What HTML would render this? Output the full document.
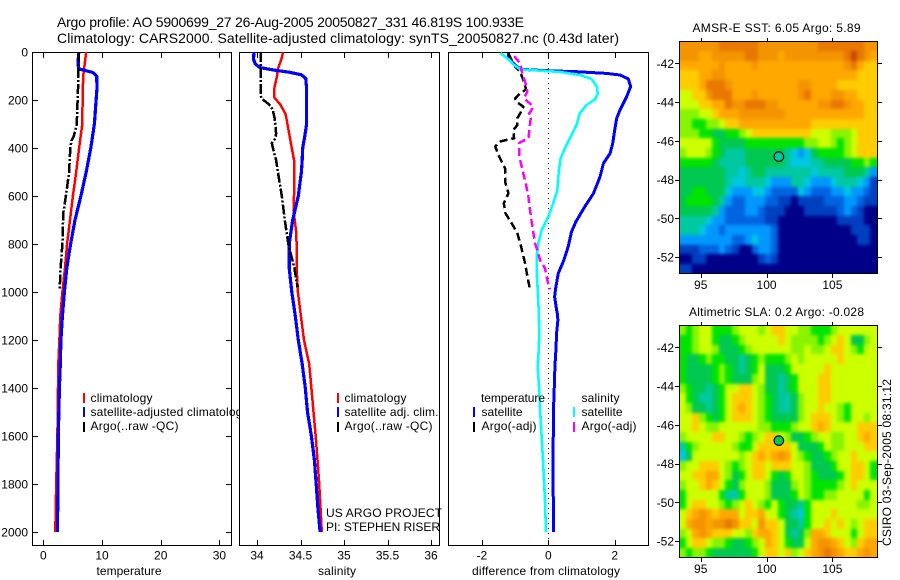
<!DOCTYPE html>
<html><head><meta charset="utf-8"><title>Argo profile</title>
<style>
html,body{margin:0;padding:0;background:#fff}
svg{display:block}
text{font-family:"Liberation Sans",sans-serif;font-size:12px;fill:#000}
.t{font-size:14px}
</style></head>
<body>
<svg id="fig" xmlns="http://www.w3.org/2000/svg" width="900" height="580" viewBox="0 0 900 580">
<defs>
<filter id="soften" filterUnits="userSpaceOnUse" x="640" y="0" width="260" height="580" color-interpolation-filters="sRGB"><feGaussianBlur stdDeviation="1.6"/></filter>
<clipPath id="clip-m1"><rect x="679" y="41" width="199" height="233"/></clipPath>
<clipPath id="clip-m2"><rect x="679" y="325" width="199" height="233"/></clipPath>
</defs>
<text class="t" x="57" y="27" textLength="467" lengthAdjust="spacing">Argo profile: AO 5900699_27 26-Aug-2005 20050827_331 46.819S 100.933E</text>
<text class="t" x="57" y="43" textLength="562" lengthAdjust="spacing">Climatology: CARS2000. Satellite-adjusted climatology: synTS_20050827.nc (0.43d later)</text>

<rect x="32.5" y="52.5" width="199" height="493" fill="#fff" stroke="#000"/>
<g id="p1"></g>
<g>
<line x1="84" x2="84" y1="393" y2="403" stroke="#f00" stroke-width="2"/>
<line x1="84" x2="84" y1="407" y2="417" stroke="#00f" stroke-width="2"/>
<line x1="84" x2="84" y1="422" y2="432" stroke="#000" stroke-width="2"/>
<text x="90.5" y="402" textLength="62">climatology</text>
<text x="90.5" y="416" textLength="158">satellite-adjusted climatology</text>
<text x="90.5" y="430" textLength="88">Argo(..raw -QC)</text>
</g>

<rect x="239.5" y="52.5" width="200" height="493" fill="#fff" stroke="#000"/>
<g id="p2"></g>
<g>
<line x1="338" x2="338" y1="393" y2="403" stroke="#f00" stroke-width="2"/>
<line x1="338" x2="338" y1="407" y2="417" stroke="#00f" stroke-width="2"/>
<line x1="338" x2="338" y1="422" y2="432" stroke="#000" stroke-width="2"/>
<text x="344.5" y="402" textLength="62">climatology</text>
<text x="344.5" y="416" textLength="94">satellite adj. clim.</text>
<text x="344.5" y="430" textLength="88">Argo(..raw -QC)</text>
</g>
<text x="326" y="517" textLength="116">US ARGO PROJECT</text>
<text x="326" y="531" textLength="114">PI: STEPHEN RISER</text>

<rect x="448.5" y="52.5" width="200" height="493" fill="#fff" stroke="#000"/>
<g id="p3"></g>
<g>
<line x1="474" x2="474" y1="407" y2="417" stroke="#00f" stroke-width="2"/>
<line x1="474" x2="474" y1="422" y2="432" stroke="#000" stroke-width="2"/>
<line x1="574" x2="574" y1="407" y2="417" stroke="#0ff" stroke-width="2"/>
<line x1="574" x2="574" y1="422" y2="432" stroke="#f0f" stroke-width="2"/>
<text x="481" y="402" textLength="64">temperature</text>
<text x="481.5" y="416" textLength="41">satellite</text>
<text x="481.5" y="430" textLength="55">Argo(-adj)</text>
<text x="581.5" y="402" textLength="38">salinity</text>
<text x="581.5" y="416" textLength="41">satellite</text>
<text x="581.5" y="430" textLength="55">Argo(-adj)</text>
</g>

<text x="96.5" y="575" textLength="65">temperature</text>
<text x="318" y="575" textLength="38">salinity</text>
<text x="472" y="575" textLength="148">difference from climatology</text>

<text x="692.5" y="32" textLength="168">AMSR-E SST: 6.05 Argo: 5.89</text>
<g id="m1">
<g clip-path="url(#clip-m1)"><g id="m1-cells" filter="url(#soften)"></g></g>
</g>
<text x="689" y="316" textLength="175">Altimetric SLA: 0.2 Argo: -0.028</text>
<g id="m2">
<g clip-path="url(#clip-m2)"><g id="m2-cells" filter="url(#soften)"></g></g>
</g>
<text transform="translate(891,546) rotate(-90)" x="0" y="0" textLength="167">CSIRO 03-Sep-2005 08:31:12</text>
</svg>

<script>
// ---- depth axis ticks and x tick labels
const depthTicks = [0,200,400,600,800,1000,1200,1400,1600,1800,2000];
const tempTicks = [0,10,20,30];
const salTicks = [34,34.5,35,35.5,36];
const salTickLabels = ['34','34.5','35','35.5','36'];
const diffTicks = [-2,0,2];
const lonTicks = [95,100,105];
const latTicks = [42,44,46,48,50,52];

// ---- temperature panel
const tempClimDepth = [0,50,100,200,300,400,500,600,700,800,900,1000,1100,1200,1300,1400,1600,1800,2000];
const tempClim = [7.3,7.05,6.8,6.7,6.65,6.1,5.6,5.05,4.55,4.05,3.7,3.25,2.9,2.75,2.55,2.5,2.4,2.2,2.05];
const tempSatDepth = [0,50,70,75,85,100,150,200,300,400,500,600,700,800,900,1000,1100,1200,1300,1400,1600,1800,2000];
const tempSat = [6,5.95,6,6.8,8.4,9.1,9.15,9,8.7,8.1,7.3,6.4,5.4,4.65,4,3.6,3.25,3,2.9,2.75,2.55,2.5,2.4];
const tempArgoDepth = [0,70,100,200,300,350,370,400,500,600,670,800,900,990];
const tempArgo = [6.1,5.95,6,5.85,5.7,5.2,4.8,4.6,4.4,3.85,3.4,3.25,2.95,2.8];

// ---- salinity panel
const salClimDepth = [0,30,70,100,150,190,220,260,320,400,450,500,600,660,750,800,900,1000,1100,1200,1300,1400,1500,1600,1700,1800,1900,2000];
const salClim = [34.3,34.28,34.24,34.23,34.2,34.2,34.27,34.33,34.36,34.4,34.425,34.43,34.425,34.42,34.45,34.455,34.455,34.47,34.505,34.54,34.6,34.625,34.65,34.675,34.695,34.715,34.73,34.745];
const salSatDepth = [0,30,50,65,75,85,95,110,150,300,350,400,450,500,600,700,800,900,1000,1100,1200,1300,1400,1500,1600,1700,1800,1900,2000];
const salSat = [33.965,33.96,33.98,34.035,34.19,34.38,34.51,34.56,34.57,34.57,34.55,34.525,34.52,34.51,34.475,34.41,34.37,34.37,34.4,34.44,34.475,34.52,34.555,34.58,34.625,34.66,34.68,34.7,34.725];
const salArgoDepth = [0,100,180,195,210,225,240,280,340,360,380,410,450,500,600,700,800,900,980];
const salArgo = [34.045,34.045,34.04,34.055,34.11,34.155,34.18,34.205,34.22,34.21,34.17,34.19,34.22,34.24,34.285,34.32,34.36,34.43,34.465];

// ---- difference panel
const dTempSatDepth = [5,26,54,72,78,82,89,96,112,144,186,242,276,325,381,422,464,519,589,644,707,749,811,867,922,978,1019,1075,1089,1117,1172,1242,1311,1394,1478,1589,1728,1867,2000];
const dTempSat = [-1.2,-1.2,-1,-.85,-.05,.85,1.75,2.16,2.41,2.48,2.36,2.16,2.06,2,1.94,1.86,1.66,1.56,1.36,1.1,.83,.7,.6,.47,.3,.23,.19,.25,.27,.29,.25,.23,.2,.18,.16,.15,.14,.15,.16];
const dSalSatDepth = [5,30,54,72,78,83,96,112,144,172,197,221,255,304,346,401,443,492,575,630,686,742,797,853,908,992,1075,1172,1242,1311,1394,1478,1561,1631,1700,1783,1867,2000];
const dSalSat = [-1.44,-1.2,-1.03,-.85,-.25,.35,.95,1.3,1.46,1.49,1.41,1.15,.95,.85,.7,.5,.37,.32,.27,.15,0,-.2,-.3,-.35,-.35,-.32,-.29,-.27,-.29,-.32,-.28,-.25,-.22,-.19,-.16,-.13,-.1,-.07];
const dTempArgoDepth = [8,61,82,117,156,172,193,211,228,256,276,304,325,360,364,374,394,429,485,547,589,630,672,714,756,811,881,943,989];
const dTempArgo = [-1.2,-1,-.85,-.75,-.67,-.85,-1,-.93,-.75,-.85,-.93,-.93,-1.05,-1.03,-1.2,-1.48,-1.6,-1.5,-1.3,-1.29,-1.2,-1.34,-1.29,-1.1,-.93,-.82,-.7,-.62,-.55];
const dSalArgoDepth = [17,47,89,137,165,193,228,262,276,325,360,378,436,478,547,603,658,728,797,825,867,901,950,989];
const dSalArgo = [-1.03,-.85,-.78,-.67,-.63,-.73,-.45,-.6,-.53,-.57,-.6,-.87,-.87,-.8,-.68,-.6,-.55,-.48,-.4,-.33,-.25,-.1,-.03,.05];

// ---- map colour levels (0 = coldest / lowest)
const levelColors = ['#000088','#0040c0','#0064e0','#0098ff','#00c8e0','#00c8a0','#00c850','#00e400','#88f400','#ccff00','#ffcc00','#ffa800','#f49400','#e87800','#c84800'];
const sstRows = [
[12,12,12,12,12,12,13,13,13,13,13,13,12,12,12,12,12,12,12,12,12,13,13,13,13,13,13,13,12,12],
[12,12,12,11,11,12,12,12,12,12,13,13,12,12,12,11,12,12,12,12,12,12,12,12,12,13,14,13,12,11],
[11,11,11,11,11,11,12,11,11,11,11,12,11,11,11,11,11,11,11,11,11,11,11,11,11,12,13,11,10,10],
[10,10,10,11,11,12,12,11,11,11,11,11,11,11,11,11,11,11,11,11,11,11,11,11,11,11,11,10,10,10],
[10,10,10,11,13,13,13,12,11,11,11,11,11,11,11,11,11,11,12,12,11,11,11,11,10,10,10,10,10,10],
[9,9,10,10,12,13,13,13,11,11,11,12,11,11,11,11,11,11,12,13,11,11,11,12,12,11,11,10,10,10],
[9,9,9,10,10,11,11,13,12,12,13,13,13,12,12,11,11,11,11,11,11,12,12,13,13,12,11,11,10,10],
[8,8,8,9,9,10,11,11,11,12,12,12,12,12,12,12,11,11,11,11,11,11,11,11,11,11,11,11,10,10],
[8,8,7,7,8,8,9,10,10,11,11,11,11,11,11,11,11,11,11,11,10,10,10,10,10,10,10,10,10,10],
[8,8,8,7,7,6,6,7,7,8,9,10,10,10,10,10,10,10,10,10,9,9,9,8,8,8,9,10,10,10],
[9,9,9,9,9,7,6,6,6,6,7,7,7,7,7,7,7,7,7,8,8,9,9,8,7,8,9,10,10,10],
[8,9,9,9,8,7,6,5,5,5,6,6,6,6,6,6,5,4,3,4,6,7,7,7,7,8,9,10,10,10],
[7,7,7,7,7,6,5,5,5,5,6,6,6,6,6,6,5,4,4,4,5,5,6,6,6,6,7,7,8,7],
[6,6,6,6,6,6,6,5,5,4,5,6,6,5,5,5,5,5,5,5,4,5,5,5,5,6,6,6,5,3],
[6,6,6,6,6,6,6,5,4,4,5,5,5,4,3,3,3,5,5,4,3,3,3,4,5,5,5,4,3,1],
[6,6,7,7,6,6,6,4,3,3,3,4,4,3,2,2,2,2,4,3,2,2,2,3,3,4,3,3,2,1],
[6,7,7,7,7,6,5,3,2,2,3,3,3,2,2,1,1,0,1,1,1,1,2,2,2,3,3,2,1,1],
[6,6,6,6,6,5,3,2,2,2,3,3,2,1,1,1,0,0,0,1,1,1,1,1,2,3,2,1,0,0],
[5,5,5,5,4,3,3,2,2,2,2,2,2,1,1,0,0,0,0,0,0,0,0,0,1,1,1,1,0,0],
[5,5,5,4,3,3,2,3,3,3,3,3,3,3,2,0,0,0,0,0,0,0,0,0,0,0,1,1,1,0],
[3,3,3,3,3,3,3,3,2,2,3,4,3,3,2,0,0,0,0,0,0,0,0,0,0,0,0,1,1,0],
[1,1,1,2,2,2,3,2,1,0,0,2,3,3,2,0,0,0,0,0,0,0,0,0,0,0,0,0,0,0],
[0,0,1,1,0,0,0,0,0,0,0,0,1,2,1,0,0,0,0,0,0,0,0,0,0,0,0,0,0,0],
[1,1,0,0,0,0,0,0,0,0,0,0,0,0,0,0,0,0,0,0,0,0,0,0,0,0,0,0,0,0]
];
const slaRows = [
[8,7,8,9,9,7,7,7,8,9,9,9,8,9,10,10,9,9,8,8,7,7,7,8,9,9,9,9,9,9],
[7,7,8,9,9,7,6,6,7,8,9,9,9,9,9,10,9,8,8,8,8,7,8,9,10,9,6,6,8,9],
[7,7,8,9,9,8,6,6,6,7,8,9,9,9,9,9,9,8,8,9,8,8,9,10,10,9,8,7,9,9],
[7,6,6,7,8,7,7,6,6,5,6,7,8,7,7,7,8,9,8,9,9,9,9,9,10,9,9,9,9,9],
[7,6,6,6,6,7,8,7,6,5,6,7,9,6,6,6,7,9,9,9,9,9,10,9,9,9,9,9,9,9],
[7,6,6,6,6,7,8,7,6,6,6,8,9,6,6,5,6,7,9,9,9,10,10,9,9,9,9,9,9,9],
[8,7,6,6,5,6,7,9,9,10,10,9,8,6,6,5,6,7,9,9,9,10,10,9,9,9,9,9,9,9],
[9,7,6,5,5,6,7,9,10,10,10,9,8,7,6,5,5,6,8,9,9,10,10,9,9,9,9,9,9,9],
[9,8,6,6,5,6,7,9,10,11,10,9,8,7,6,5,5,6,8,9,9,10,9,9,8,7,9,9,9,9],
[9,9,10,8,7,6,7,9,10,10,10,9,8,7,6,6,6,6,8,9,10,10,10,9,8,7,9,9,8,9],
[9,9,10,9,8,8,9,9,9,9,9,9,8,8,7,7,7,8,9,9,10,11,10,9,9,9,9,10,10,10],
[8,9,9,9,9,10,10,9,9,8,7,8,9,10,10,9,8,6,6,7,8,9,9,8,8,9,9,10,11,10],
[5,7,8,9,9,9,9,9,8,7,7,9,10,10,10,10,10,9,6,6,6,7,9,8,8,9,9,9,10,10],
[4,6,9,9,9,9,9,9,9,8,9,10,11,10,11,12,11,9,8,7,6,6,7,8,9,9,10,9,9,9],
[8,9,9,10,10,10,9,8,7,8,9,10,10,9,10,10,10,9,9,8,6,6,6,7,9,9,10,10,9,7],
[9,9,10,10,11,11,9,8,6,7,9,10,10,9,7,6,7,9,9,8,7,6,6,6,7,9,10,10,9,7],
[8,9,9,10,11,10,9,7,6,8,9,9,9,8,6,6,6,8,9,8,7,7,7,7,8,9,10,9,9,9],
[7,9,9,9,9,9,7,5,5,7,9,9,9,8,6,6,6,7,9,8,7,7,8,8,9,9,9,9,7,9],
[7,9,10,10,9,9,8,7,8,9,10,9,8,7,9,7,6,6,5,7,9,9,9,9,9,9,9,8,8,9],
[9,10,11,12,11,10,11,11,11,9,10,10,11,9,9,7,6,5,4,7,9,9,9,10,9,9,9,9,9,9],
[9,11,12,12,11,12,12,13,12,10,10,9,12,10,10,9,6,6,5,7,9,9,10,9,10,9,8,9,10,10],
[8,9,11,12,11,10,10,10,9,9,8,10,11,11,10,9,6,5,6,8,11,11,10,9,9,9,7,9,10,10],
[7,9,10,10,9,8,8,7,6,6,7,8,9,11,10,9,7,6,6,9,11,12,12,11,10,9,8,10,11,11],
[8,7,8,8,7,6,6,6,6,6,6,7,9,10,10,9,10,8,9,10,11,12,13,12,11,10,10,11,12,11]
];
const floatLon = [100.933];
const floatLat = [46.819];
const sstFloatLevel = [5];
const slaFloatLevel = [6];

// ---- axis functions
const NS = 'http://www.w3.org/2000/svg';
const depthY = d => 52 + d * 0.24;
const tempX = v => 43.3 + v * 5.87;
const salX = v => 257 + (v - 34) * 87;
const diffX = v => 548.3 + v * 33.2;
const lonX = v => 700.7 + (v - 95) * 13.17;
const LON0 = 93.375, LAT0 = 40.87, CELL = 0.5;

function svgEl(parent, tag, props) {
  const el = document.createElementNS(NS, tag);
  for (const k in props) el.setAttribute(k, props[k]);
  parent.appendChild(el);
  return el;
}
function drawLine(parent, depths, values, xf, style, name) {
  const pts = depths.map((d, i) => xf(values[i]).toFixed(1) + ',' + depthY(d).toFixed(1)).join(' ');
  const el = svgEl(parent, 'polyline', {points: pts, fill: 'none', stroke: style.color, 'stroke-width': style.width, 'stroke-dasharray': style.dash || 'none', 'stroke-linejoin': 'round', 'shape-rendering': 'crispEdges'});
  
  
}
function xTicks(parent, ticks, labels, xf) {
  ticks.forEach((t, i) => {
    const x = Math.round(xf(t)) + 0.5;
    const a = svgEl(parent, 'line', {x1: x, x2: x, y1: 53, y2: 58, stroke: '#000'});
    
    
    const b = svgEl(parent, 'line', {x1: x, x2: x, y1: 540, y2: 545, stroke: '#000'});
    
    
    const s = svgEl(parent, 'text', {x: xf(t), y: 559.5, 'text-anchor': 'middle'});
    s.textContent = labels[i];
    
    
  });
}

const p1 = document.getElementById('p1');
const p2 = document.getElementById('p2');
const p3 = document.getElementById('p3');

depthTicks.forEach(d => {
  const y = Math.round(depthY(d)) + 0.5;
  if (d > 0) {
    const a = svgEl(p1, 'line', {x1: 33, x2: 38, y1: y, y2: y, stroke: '#000'});
    
    
    const b = svgEl(p1, 'line', {x1: 226, x2: 231, y1: y, y2: y, stroke: '#000'});
    
    
  }
  const s = svgEl(p1, 'text', {x: 28, y: depthY(d) + 4.5, 'text-anchor': 'end'});
  s.textContent = d;
  
  
});
xTicks(p1, tempTicks, tempTicks, tempX);
xTicks(p2, salTicks, salTickLabels, salX);
xTicks(p3, diffTicks, diffTicks, diffX);

const zero = svgEl(p3, 'line', {x1: 548.5, x2: 548.5, y1: 53, y2: 545, stroke: '#000', 'stroke-dasharray': '1 4'});



drawLine(p1, tempClimDepth, tempClim, tempX, {color: '#f00', width: 2.5}, 'temperature-climatology-line');
drawLine(p1, tempSatDepth, tempSat, tempX, {color: '#00f', width: 3.2}, 'temperature-satellite-line');
drawLine(p1, tempArgoDepth, tempArgo, tempX, {color: '#000', width: 2.5, dash: '10 2 2 2'}, 'temperature-argo-line');

drawLine(p2, salClimDepth, salClim, salX, {color: '#f00', width: 2.5}, 'salinity-climatology-line');
drawLine(p2, salSatDepth, salSat, salX, {color: '#00f', width: 3.2}, 'salinity-satellite-line');
drawLine(p2, salArgoDepth, salArgo, salX, {color: '#000', width: 2.5, dash: '10 2 2 2'}, 'salinity-argo-line');

drawLine(p3, dTempSatDepth, dTempSat, diffX, {color: '#00f', width: 3}, 'difference-temperature-satellite-line');
drawLine(p3, dTempArgoDepth, dTempArgo, diffX, {color: '#000', width: 2.5, dash: '8 4'}, 'difference-temperature-argo-line');
drawLine(p3, dSalSatDepth, dSalSat, diffX, {color: '#0ff', width: 2.6}, 'difference-salinity-satellite-line');
drawLine(p3, dSalArgoDepth, dSalArgo, diffX, {color: '#f0f', width: 2.5, dash: '8 4'}, 'difference-salinity-argo-line');

function drawMap(groupId, rows, top, markerLevel) {
  const g = document.getElementById(groupId);
  const cells = document.getElementById(groupId + '-cells');
  const latY = v => top + 21.3 + (v - 42) * 19.37;
  const left = 679, right = 878, frameTop = Math.round(top) - 1;
  const nRows = rows.length;
  rows.forEach((row, r) => {
    row.forEach((lvl, c) => {
      let x0 = Math.round(lonX(LON0 + c * CELL));
      let x1 = Math.round(lonX(LON0 + (c + 1) * CELL));
      let y0 = Math.round(latY(LAT0 + r * CELL));
      let y1 = Math.round(latY(LAT0 + (r + 1) * CELL));
      if (c === 0) x0 -= 12;
      if (c === row.length - 1) x1 += 12;
      if (r === 0) y0 -= 12;
      if (r === nRows - 1) y1 += 12;
      const cell = svgEl(cells, 'rect', {x: x0, y: y0, width: x1 - x0 + 0.5, height: y1 - y0 + 0.5, fill: levelColors[lvl]});
      
      
    });
  });
  const frame = svgEl(g, 'rect', {x: left + 0.5, y: frameTop + 0.5, width: right - left - 1, height: 232, fill: 'none', stroke: '#000'});
  
  
  const bottom = frameTop + 232;
  lonTicks.forEach(t => {
    const x = Math.round(lonX(t)) + 0.5;
    const a = svgEl(g, 'line', {x1: x, x2: x, y1: frameTop - 3, y2: frameTop, stroke: '#000'});
    
    
    const b = svgEl(g, 'line', {x1: x, x2: x, y1: bottom + 1, y2: bottom + 5, stroke: '#000'});
    
    
    const s = svgEl(g, 'text', {x: lonX(t), y: bottom + 16, 'text-anchor': 'middle'});
    s.textContent = t;
    
    
  });
  latTicks.forEach(t => {
    const y = Math.round(latY(t)) + 0.5;
    const a = svgEl(g, 'line', {x1: left - 4, x2: left, y1: y, y2: y, stroke: '#000'});
    
    
    const b = svgEl(g, 'line', {x1: right, x2: right + 4, y1: y, y2: y, stroke: '#000'});
    
    
    const s = svgEl(g, 'text', {x: 674, y: latY(t) + 4.5, 'text-anchor': 'end'});
    s.textContent = '-' + t;
    
    
  });
  const dot = svgEl(g, 'circle', {cx: lonX(floatLon[0]), cy: latY(floatLat[0]), r: 4.8, fill: levelColors[markerLevel], stroke: '#000', 'stroke-width': 1.1});
  
  
}
drawMap('m1', sstRows, 42, sstFloatLevel[0]);
drawMap('m2', slaRows, 326, slaFloatLevel[0]);
</script>
</body></html>
